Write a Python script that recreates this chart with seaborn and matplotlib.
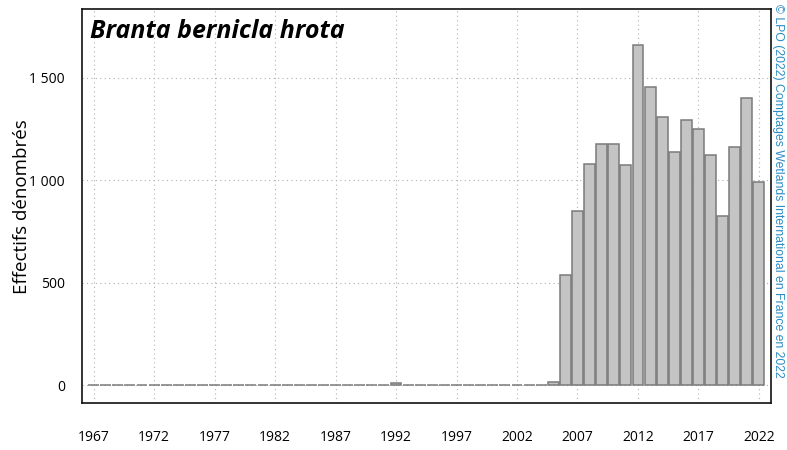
import matplotlib
matplotlib.use("Agg")
import matplotlib.pyplot as plt
import seaborn as sns
import pandas as pd

years = list(range(1967, 2023))
counts_recent = {1992: 8, 2005: 13, 2006: 536, 2007: 850, 2008: 1080, 2009: 1176,
                 2010: 1176, 2011: 1073, 2012: 1662, 2013: 1457, 2014: 1309,
                 2015: 1137, 2016: 1296, 2017: 1252, 2018: 1125, 2019: 824,
                 2020: 1163, 2021: 1400, 2022: 990}
counts = [counts_recent.get(y, 0) for y in years]
tick_years = list(range(1967, 2023, 5))
y_ticks = [0, 500, 1000, 1500]
y_tick_labels = ["0", "500", "1 000", "1 500"]

sns.set_style("white")
plt.rcParams['font.family'] = ['Open Sans', 'DejaVu Sans']
plt.rcParams['text.color'] = '#000000'
plt.rcParams['axes.labelcolor'] = '#000000'
plt.rcParams['xtick.color'] = '#000000'
plt.rcParams['ytick.color'] = '#000000'

df = pd.DataFrame({"year": years, "count": counts})

fig = plt.figure(figsize=(7.87, 4.5), dpi=100)
ax = fig.add_axes([0.1036, 0.1038, 0.9797 - 0.1036, 0.9793 - 0.1038])

sns.barplot(data=df, x="year", y="count", native_scale=True, width=0.9,
            color="#c4c4c4", saturation=1, edgecolor="#7a7a7a", linewidth=1.1,
            ax=ax, zorder=3)

ax.set_xlim(1966.0, 2023.0)
ax.set_ylim(-89, 1834)
ax.set_xticks(tick_years)
ax.set_xticklabels([str(y) for y in tick_years], fontsize=10)
ax.set_yticks(y_ticks)
ax.set_yticklabels(y_tick_labels, fontsize=10)
ax.tick_params(axis="x", direction="in", length=10, width=1.2, pad=19, color="#111111")
ax.tick_params(axis="y", direction="in", length=9, width=1.2, pad=12, color="#111111")
ax.grid(True, linestyle=(0, (1, 3)), color="#b0b0b0", linewidth=0.8, zorder=0)
for s in ax.spines.values():
    s.set_color("#111111")
    s.set_linewidth(1.2)
ax.set_xlabel("")
ax.set_ylabel("Effectifs dénombrés", fontsize=13.5, labelpad=-1)

ax.text(0.012, 0.975, "Branta bernicla hrota", transform=ax.transAxes,
        fontsize=18, fontweight="bold", fontstyle="italic", ha="left", va="top",
        color="#000000", zorder=5)

fig.text(0.9885, 0.992, "© LPO (2022) Comptages Wetlands International en France en 2022",
         rotation=-90, ha="center", va="top", fontsize=8.8, color="#2b8cc4",
         family=["Liberation Sans", "DejaVu Sans"])

fig.savefig("out.png", dpi=100)
